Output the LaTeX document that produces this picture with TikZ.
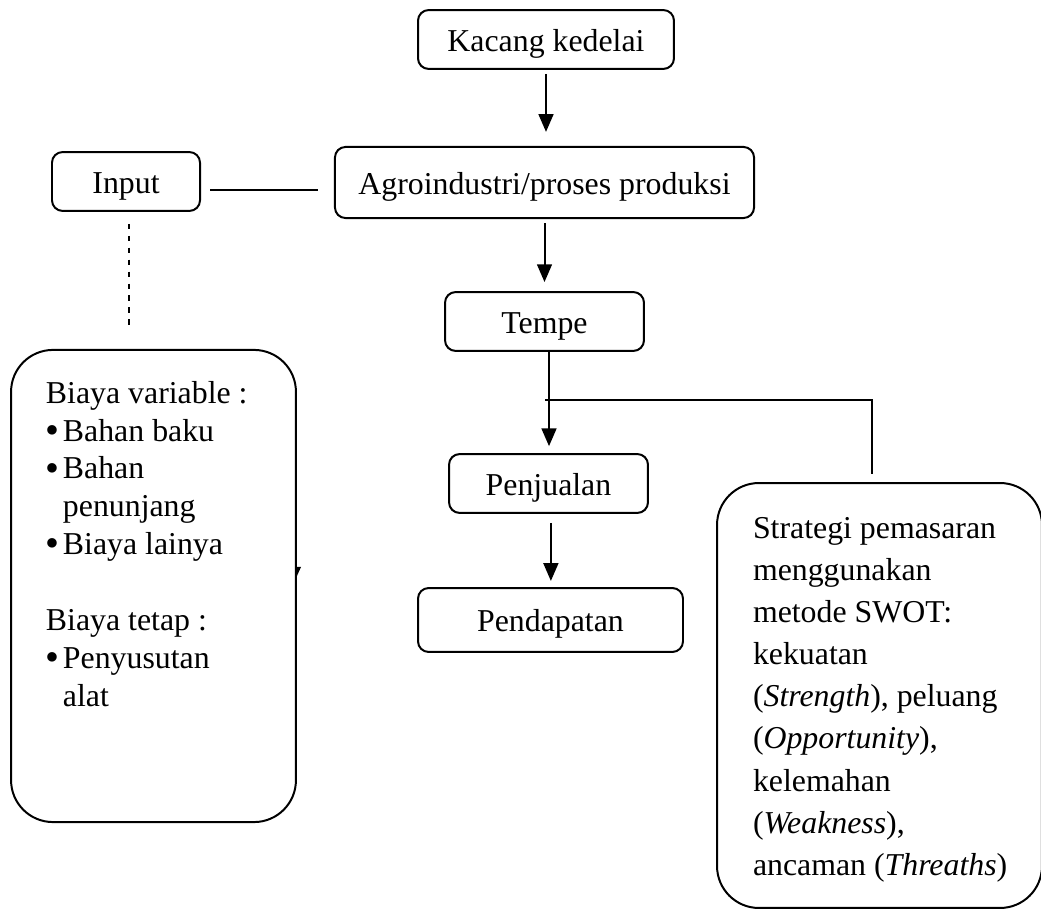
\documentclass[tikz,border=0pt]{standalone}
\usepackage{fontspec}
\setmainfont{Liberation Serif}
\usetikzlibrary{arrows.meta}
\newcommand{\bul}{\makebox[6.4pt][l]{\raisebox{-0.8pt}{\fontsize{15pt}{15pt}\selectfont •}}}

\begin{document}
\begin{tikzpicture}[x=0.377pt,y=-0.377pt,line width=0.75pt,
    box/.style={draw,rounded corners=4pt,inner sep=0pt,minimum height=22.2pt,
      text height=8.7pt,text depth=0pt,font=\fontsize{12pt}{14pt}\selectfont},
    bigbox/.style={draw,rounded corners=15.8pt,inner sep=0pt},
    arr/.style={-{Triangle[length=6.7pt,width=5.6pt]}}]
  \useasboundingbox (0,0) rectangle (1041,911);
  % boxes
  \node[box,minimum width=96.5pt] (kacang) at (546,39.5) {Kacang kedelai};
  \node[box,minimum width=158pt,minimum height=26.8pt] (agro) at (544.5,182.5) {Agroindustri/proses produksi};
  \node[box,minimum width=55.8pt] (input) at (126,181.5) {Input};
  \node[box,minimum width=75pt] (tempe) at (544.5,321.5) {Tempe};
  \node[box,minimum width=75pt] (penjualan) at (548.5,483.5) {Penjualan};
  \node[box,minimum width=99.9pt,minimum height=24.1pt] (pendapatan) at (550.5,620) {Pendapatan};
  \node[bigbox,minimum width=107.4pt,minimum height=178pt] (biaya) at (153.5,586) {};
  \node[bigbox,minimum width=122.5pt,minimum height=160.2pt] (strategi) at (879.5,695.5) {};
  \node[anchor=north west,inner sep=0pt,align=left,font=\fontsize{12pt}{14.3pt}\selectfont]
    (biayatext) at (45,380) {Biaya variable :\\
    \bul Bahan baku\\
    \bul Bahan\\
    \hspace*{6.4pt}penunjang\\
    \bul Biaya lainya\\[14.3pt]
    Biaya tetap :\\
    \bul Penyusutan\\
    \hspace*{6.4pt}alat};
  \node[anchor=north west,inner sep=0pt,align=left,font=\fontsize{12pt}{15.9pt}\selectfont]
    (strategitext) at (752,516) {Strategi pemasaran\\
    menggunakan\\
    metode SWOT:\\
    kekuatan\\
    (\textit{Strength}), peluang\\
    (\textit{Opportunity}),\\
    kelemahan\\
    (\textit{Weakness}),\\
    ancaman (\textit{Threaths})};
  \coordinate (branch) at (545,400);
  \coordinate (turn) at (872,400);
  % connectors
  \draw[arr,shorten <=1.5pt,shorten >=5.3pt] (kacang.south) -- (kacang.south |- agro.north);
  \draw[arr,shorten <=1.5pt,shorten >=3.4pt] (agro.south) -- (tempe.north);
  \draw[arr,shorten >=2.6pt] ([xshift=1.7pt]tempe.south) -- ([xshift=1.7pt]tempe.south |- penjualan.north);
  \draw[arr,shorten <=3.4pt,shorten >=2.3pt] ([xshift=0.9pt]penjualan.south) -- ([xshift=0.9pt]penjualan.south |- pendapatan.north);
  \draw[shorten <=3.4pt,shorten >=6pt] ([yshift=-3.2pt]input.east) -- ([yshift=-3.2pt]input.east -| agro.west);
  \draw[dash pattern=on 2pt off 2.5pt,shorten <=4.5pt,shorten >=8.7pt] ([xshift=1.1pt]input.south) -- ([xshift=1.1pt]input.south |- biaya.north);
  \draw[shorten >=3pt] (branch) -- (turn) -- (turn |- strategi.north);
  \fill (296,567) -- (301,567) -- (296,578) -- cycle;
\end{tikzpicture}
\end{document}
